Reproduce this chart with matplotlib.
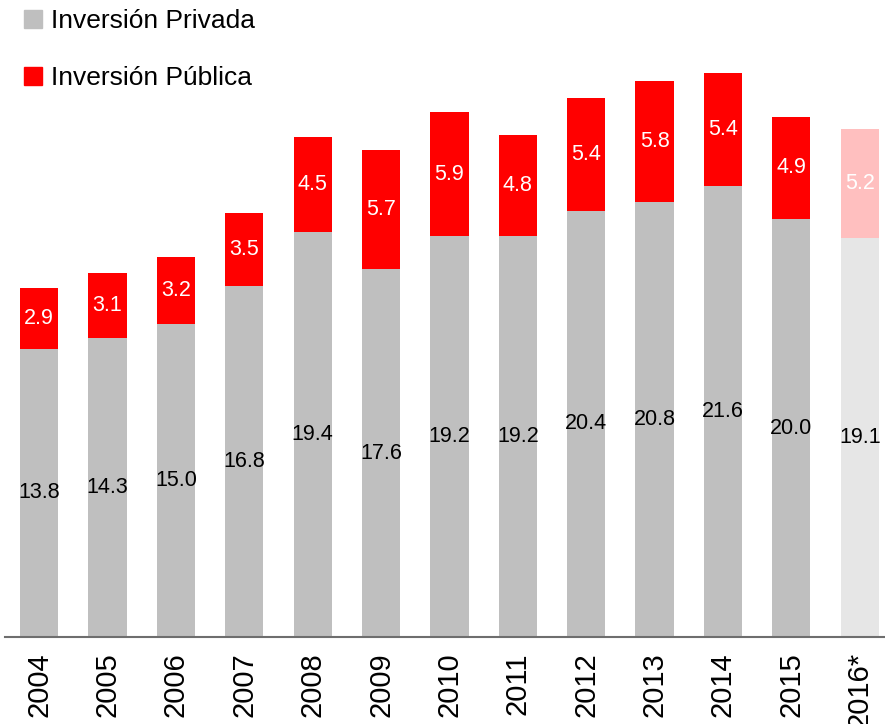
import matplotlib.pyplot as plt
import numpy as np

years = ['2004', '2005', '2006', '2007', '2008', '2009', '2010',
         '2011', '2012', '2013', '2014', '2015', '2016*']
privada = [13.8, 14.3, 15.0, 16.8, 19.4, 17.6, 19.2, 19.2, 20.4, 20.8, 21.6, 20.0, 19.1]
publica = [2.9, 3.1, 3.2, 3.5, 4.5, 5.7, 5.9, 4.8, 5.4, 5.8, 5.4, 4.9, 5.2]

plt.rcParams['font.family'] = ['Liberation Sans Narrow', 'Liberation Sans', 'DejaVu Sans']

col_priv = ['#BFBFBF'] * 12 + ['#E6E6E6']
col_pub = ['#FF0000'] * 12 + ['#FFBFBF']

fig = plt.figure(figsize=(8.85, 7.24), dpi=100)
ax = fig.add_axes([5 / 885, (724 - 637) / 724, 880 / 885, 637 / 724])

x = np.arange(len(years))
w = 0.56
ax.bar(x, privada, width=w, color=col_priv)
ax.bar(x, publica, width=w, bottom=privada, color=col_pub)

for i in range(len(years)):
    ax.text(x[i], privada[i] / 2, '{:.1f}'.format(privada[i]), ha='center', va='center',
            fontsize=15.5, color='black')
    ax.text(x[i], privada[i] + publica[i] / 2, '{:.1f}'.format(publica[i]), ha='center',
            va='center', fontsize=15.5, color='white')

ax.set_xlim(-0.5, 12.37)
ax.set_ylim(0, 637 / 20.9)
ax.set_xticks(x)
ax.set_xticklabels(years, rotation=90, fontsize=21)
ax.tick_params(axis='x', length=0, pad=11)
ax.set_yticks([])
for s in ['top', 'right', 'left']:
    ax.spines[s].set_visible(False)
ax.spines['bottom'].set_color('#6E6E6E')
ax.spines['bottom'].set_linewidth(1.5)

h1 = plt.Rectangle((0, 0), 1, 1, color='#BFBFBF')
h2 = plt.Rectangle((0, 0), 1, 1, color='#FF0000')
fig.legend([h1, h2], ['Inversión Privada', 'Inversión Pública'], loc='upper left',
           bbox_to_anchor=(0.0, 1.02), frameon=False, fontsize=19,
           handlelength=0.7, handleheight=0.7, handletextpad=0.35, labelspacing=1.25)

fig.savefig('out.png', dpi=100)
